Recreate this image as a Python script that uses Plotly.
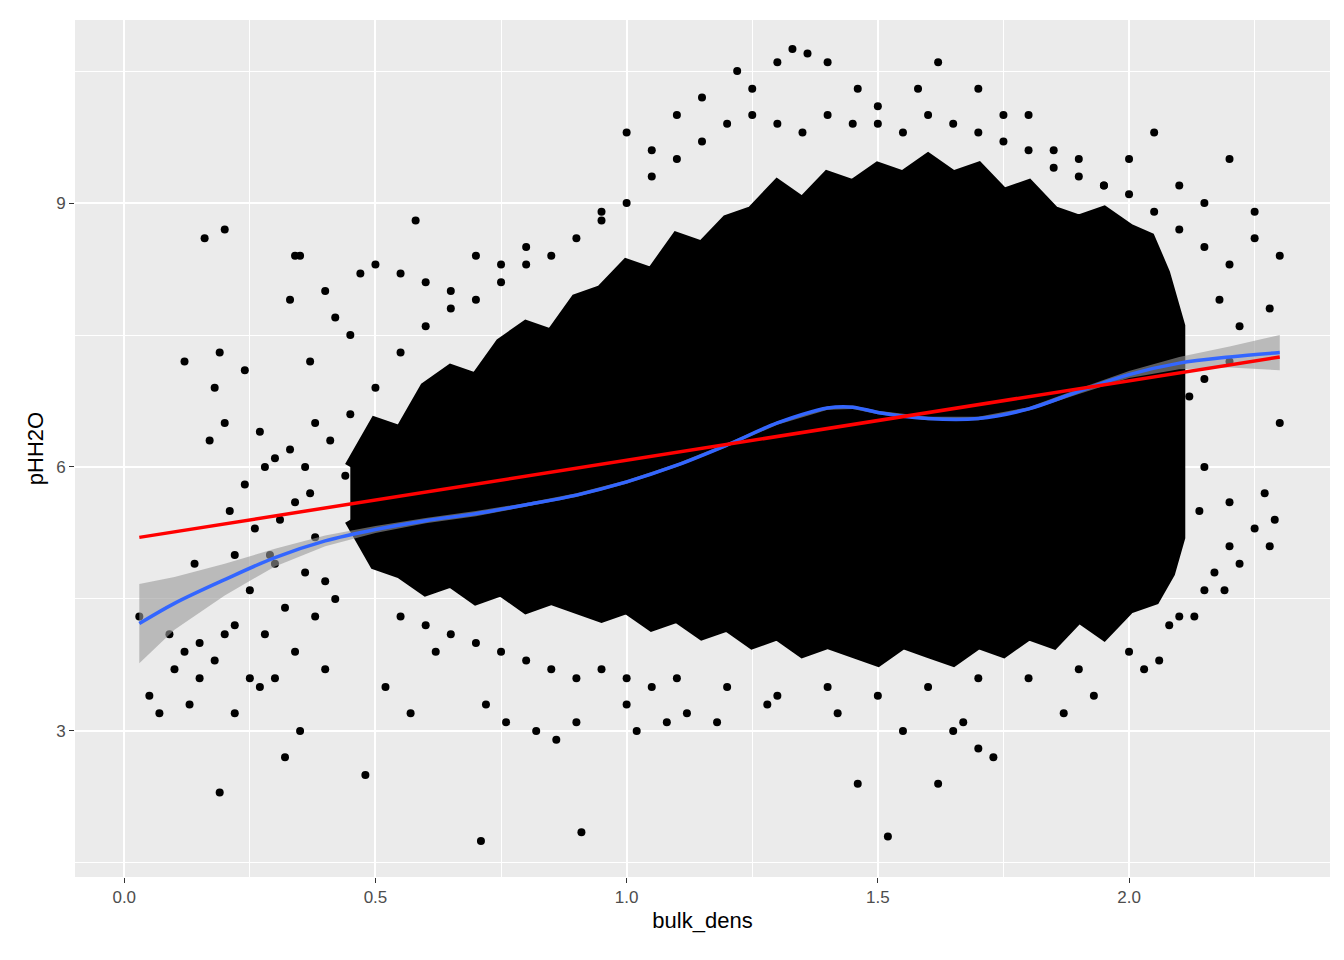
import plotly.graph_objects as go

# dense core of the cloud (ragged outline)
core_x = [0.45, 0.5, 0.55, 0.6, 0.65, 0.7, 0.75, 0.8, 0.85, 0.9, 0.95, 1.0, 1.05, 1.1, 1.15, 1.2, 1.25, 1.3,
          1.35, 1.4, 1.45, 1.5, 1.55, 1.6, 1.65, 1.7, 1.75, 1.8, 1.85, 1.9, 1.95, 2.0, 2.04, 2.07, 2.1, 2.1,
          2.08, 2.05, 2.0, 1.95, 1.9, 1.85, 1.8, 1.75, 1.7, 1.65, 1.6, 1.55, 1.5, 1.45, 1.4, 1.35, 1.3, 1.25,
          1.2, 1.15, 1.1, 1.05, 1.0, 0.95, 0.9, 0.85, 0.8, 0.75, 0.7, 0.65, 0.6, 0.55, 0.5, 0.45]
core_y = [6.0, 6.5, 6.4, 6.9, 7.1, 7.0, 7.4, 7.6, 7.5, 7.9, 8.0, 8.3, 8.2, 8.6, 8.5, 8.8, 8.9, 9.2,
          9.0, 9.3, 9.2, 9.4, 9.3, 9.5, 9.3, 9.4, 9.1, 9.2, 8.9, 8.8, 8.9, 8.7, 8.6, 8.2, 7.6, 5.2,
          4.8, 4.5, 4.4, 4.1, 4.3, 4.0, 4.1, 3.9, 4.0, 3.8, 3.9, 4.0, 3.8, 3.9, 4.0, 3.9, 4.1, 4.0,
          4.2, 4.1, 4.3, 4.2, 4.4, 4.3, 4.4, 4.5, 4.4, 4.6, 4.5, 4.7, 4.6, 4.8, 4.9, 5.4]

# scattered points outside the core
pts_x = [0.03, 0.05, 0.07, 0.09, 0.1, 0.12, 0.12, 0.13, 0.15, 0.16, 0.17, 0.18, 0.19, 0.19, 0.2, 0.2, 0.21, 0.22,
         0.24, 0.25, 0.27, 0.28, 0.3, 0.32, 0.33, 0.34, 0.35, 0.35, 0.37, 0.38, 0.4, 0.42, 0.45, 0.47, 0.48, 0.5,
         0.52, 0.55, 0.57, 0.58, 0.6, 0.62, 0.65, 0.7, 0.71, 0.72, 0.75, 0.76, 0.8, 0.82, 0.86, 0.9, 0.91, 0.95,
         1.0, 1.0, 1.02, 1.05, 1.08, 1.1, 1.12, 1.15, 1.18, 1.22, 1.25, 1.28, 1.3, 1.33, 1.36, 1.4, 1.42, 1.46,
         1.46, 1.5, 1.52, 1.55, 1.58, 1.62, 1.62, 1.65, 1.67, 1.7, 1.73, 1.7, 1.75, 1.8, 1.85, 1.87, 1.9, 1.93,
         1.95, 2.0, 2.03, 2.05, 2.06, 2.08, 2.1, 2.13, 2.15, 2.17, 2.19, 2.2, 2.2, 2.22, 2.25, 2.25, 2.25, 2.27,
         2.28, 2.29, 2.3, 2.3, 2.28, 2.22, 2.18, 2.15, 2.12, 2.14,
         0.15, 0.18, 0.22, 0.25, 0.28, 0.3, 0.32, 0.34, 0.36, 0.38, 0.4, 0.22, 0.26, 0.3, 0.34, 0.38, 0.42,
         0.14, 0.2, 0.24, 0.29, 0.33, 0.37, 0.41, 0.45, 0.27, 0.31, 0.36, 0.4, 0.44,
         0.5, 0.55, 0.6, 0.65, 0.7, 0.75, 0.8, 0.85, 0.9, 0.95, 1.0, 1.05, 1.1, 1.15, 1.2, 1.25, 1.3, 1.35,
         1.4, 1.45, 1.5, 1.55, 1.6, 1.65, 1.7, 1.75, 1.8, 1.85, 1.9, 1.95, 2.0, 2.05, 2.1, 2.15, 2.2,
         0.55, 0.6, 0.65, 0.7, 0.75, 0.8, 0.85, 0.9, 0.95, 1.0, 1.05, 1.1, 1.2, 1.3, 1.4, 1.5, 1.6, 1.7,
         1.8, 1.9, 2.0, 2.1, 2.15, 2.2, 2.2, 2.15]
pts_y = [4.3, 3.4, 3.2, 4.1, 3.7, 3.9, 7.2, 3.3, 3.6, 8.6, 6.3, 6.9, 7.3, 2.3, 8.7, 6.5, 5.5, 3.2,
         7.1, 3.6, 6.4, 6.0, 6.1, 2.7, 7.9, 8.4, 8.4, 3.0, 7.2, 6.5, 8.0, 7.7, 7.5, 8.2, 2.5, 8.3,
         3.5, 8.2, 3.2, 8.8, 8.1, 3.9, 8.0, 8.4, 1.75, 3.3, 8.3, 3.1, 8.5, 3.0, 2.9, 3.1, 1.85, 8.9,
         9.8, 3.3, 3.0, 9.6, 3.1, 10.0, 3.2, 10.2, 3.1, 10.5, 10.3, 3.3, 10.6, 10.75, 10.7, 10.6, 3.2, 10.3,
         2.4, 10.1, 1.8, 3.0, 10.3, 10.6, 2.4, 3.0, 3.1, 2.8, 2.7, 10.3, 10.0, 10.0, 9.6, 3.2, 9.5, 3.4,
         9.2, 9.5, 3.7, 9.8, 3.8, 4.2, 9.2, 4.3, 9.0, 4.8, 4.6, 9.5, 5.1, 4.9, 8.6, 5.3, 8.9, 5.7,
         5.1, 5.4, 6.5, 8.4, 7.8, 7.6, 7.9, 6.0, 6.8, 5.5,
         4.0, 3.8, 4.2, 4.6, 4.1, 3.6, 4.4, 3.9, 4.8, 4.3, 3.7, 5.0, 5.3, 4.9, 5.6, 5.2, 4.5,
         4.9, 4.1, 5.8, 5.0, 6.2, 5.7, 6.3, 6.6, 3.5, 5.4, 6.0, 4.7, 5.9,
         6.9, 7.3, 7.6, 7.8, 7.9, 8.1, 8.3, 8.4, 8.6, 8.8, 9.0, 9.3, 9.5, 9.7, 9.9, 10.0, 9.9, 9.8,
         10.0, 9.9, 9.9, 9.8, 10.0, 9.9, 9.8, 9.7, 9.6, 9.4, 9.3, 9.2, 9.1, 8.9, 8.7, 8.5, 8.3,
         4.3, 4.2, 4.1, 4.0, 3.9, 3.8, 3.7, 3.6, 3.7, 3.6, 3.5, 3.6, 3.5, 3.4, 3.5, 3.4, 3.5, 3.6,
         3.6, 3.7, 3.9, 4.3, 4.6, 5.6, 7.2, 7.0]

# smoothers
loess_x = [0.03, 0.1, 0.2, 0.3, 0.4, 0.5, 0.6, 0.7, 0.8, 0.9, 1.0, 1.1, 1.2, 1.3, 1.4, 1.45, 1.5, 1.6,
           1.7, 1.8, 1.9, 2.0, 2.1, 2.2, 2.3]
loess_y = [4.22, 4.45, 4.72, 4.97, 5.16, 5.29, 5.39, 5.47, 5.57, 5.68, 5.83, 6.02, 6.25, 6.5, 6.67, 6.68,
           6.62, 6.55, 6.55, 6.66, 6.86, 7.05, 7.18, 7.25, 7.3]
loess_se = [0.45, 0.3, 0.18, 0.1, 0.06, 0.04, 0.03, 0.03, 0.02, 0.02, 0.02, 0.02, 0.02, 0.02, 0.02, 0.02,
            0.02, 0.02, 0.02, 0.02, 0.03, 0.04, 0.07, 0.12, 0.2]
lm_x = [0.03, 2.3]
lm_y = [5.2, 7.25]

fig = go.Figure()
fig.add_trace(go.Scatter(x=core_x, y=core_y, fill="toself", fillcolor="black", mode="lines",
                         line=dict(color="black", width=12), hoverinfo="skip"))
fig.add_trace(go.Scatter(x=pts_x, y=pts_y, mode="markers", marker=dict(color="black", size=8)))
up = [y + s for y, s in zip(loess_y, loess_se)]
lo = [y - s for y, s in zip(loess_y, loess_se)]
fig.add_trace(go.Scatter(x=loess_x + loess_x[::-1], y=up + lo[::-1], fill="toself",
                         fillcolor="rgba(153,153,153,0.6)", line=dict(width=0), mode="lines"))
fig.add_trace(go.Scatter(x=loess_x, y=loess_y, mode="lines", line=dict(color="#3366FF", width=3.5, shape="spline")))
fig.add_trace(go.Scatter(x=lm_x, y=lm_y, mode="lines", line=dict(color="red", width=3.5)))


def axis(title, **kw):
    return dict(showgrid=True, gridcolor="white", gridwidth=1.6, zeroline=False, ticks="outside",
                tickcolor="#333333", ticklen=5, tickfont=dict(size=17, color="#4D4D4D"),
                title=dict(text=title, font=dict(size=22, color="black"), standoff=6),
                automargin=False, **kw)


fig.update_layout(
    width=1328, height=944, showlegend=False,
    plot_bgcolor="#EBEBEB", paper_bgcolor="white",
    font=dict(family="Liberation Sans, Arial", size=17),
    margin=dict(l=67, r=6, t=12, b=75),
    xaxis=axis("bulk_dens", range=[-0.098, 2.4], tickvals=[0, 0.5, 1, 1.5, 2],
               ticktext=["0.0", "0.5", "1.0", "1.5", "2.0"],
               minor=dict(tickvals=[0.25, 0.75, 1.25, 1.75, 2.25], showgrid=True, gridcolor="white", gridwidth=0.8, ticks="")),
    yaxis=axis("pHH2O", range=[1.34, 11.08], tickvals=[3, 6, 9],
               minor=dict(tickvals=[1.5, 4.5, 7.5, 10.5], showgrid=True, gridcolor="white", gridwidth=0.8, ticks="")),
)
fig.write_html("out.html")
